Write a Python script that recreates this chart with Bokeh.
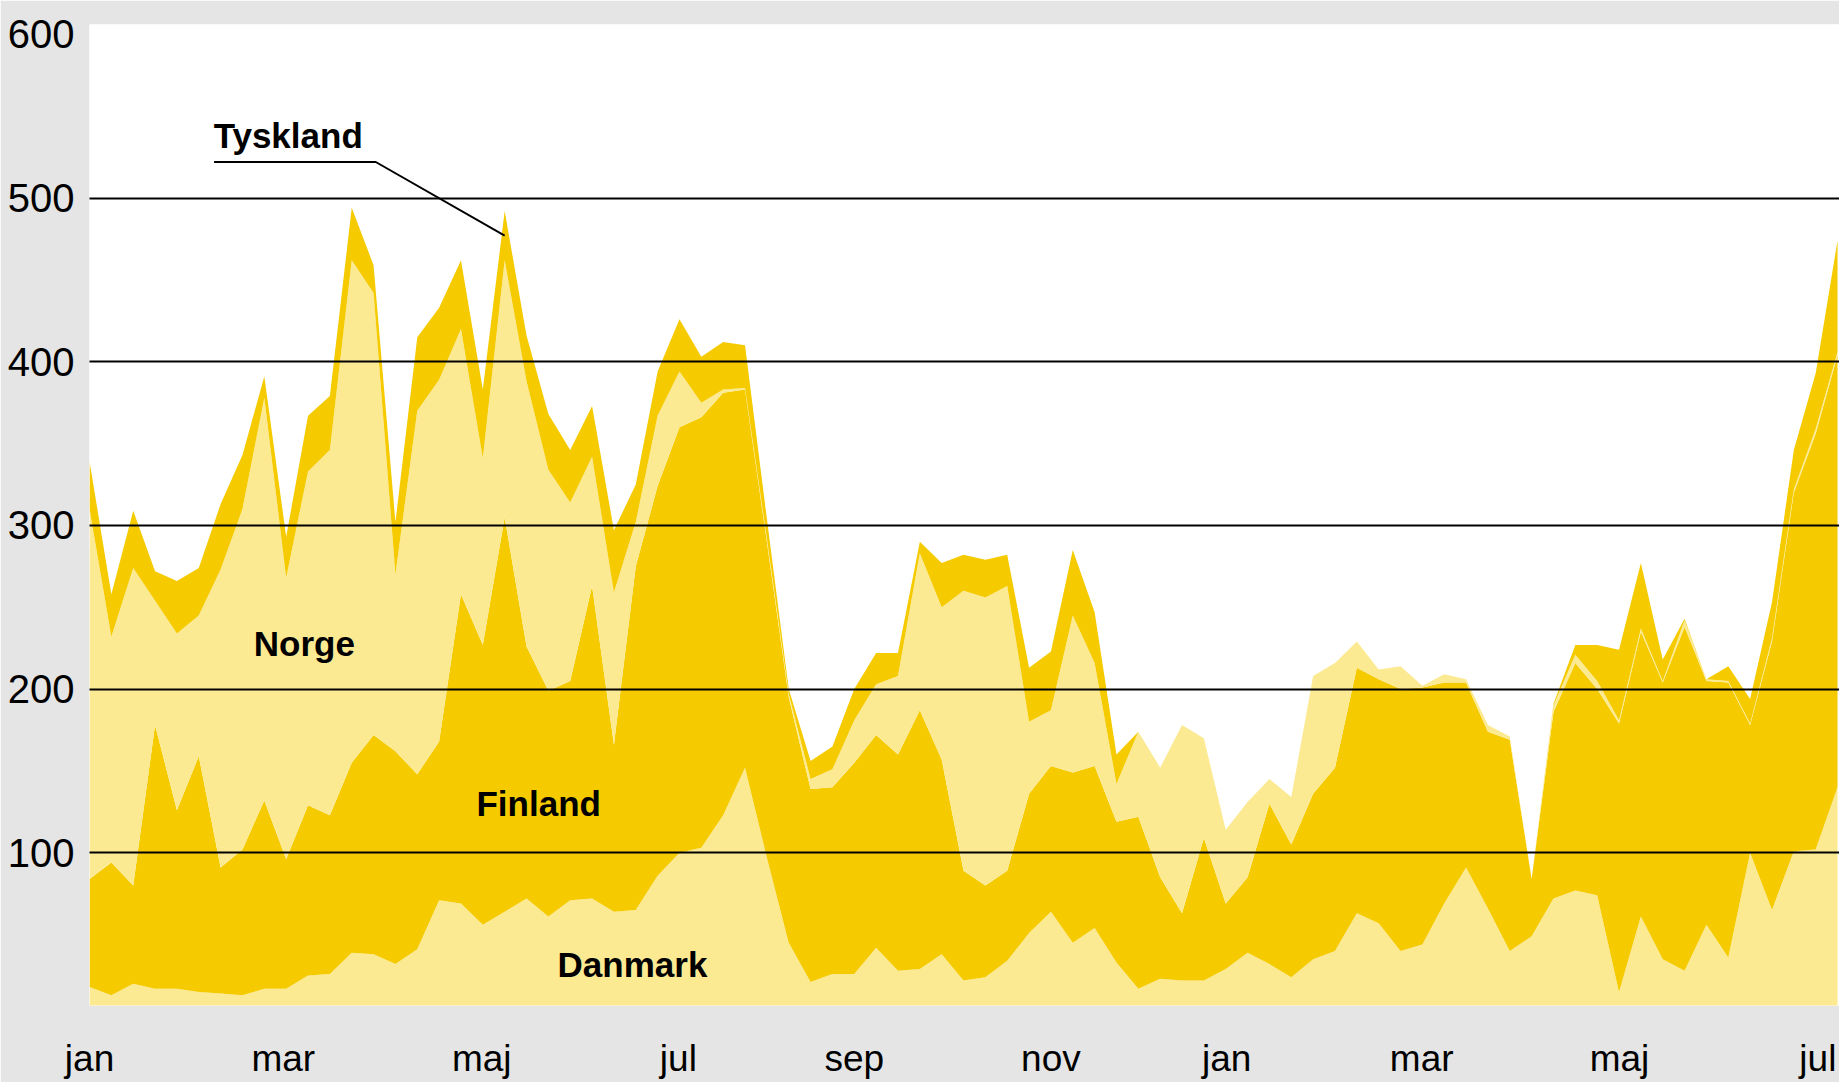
import numpy as np
from bokeh.plotting import figure
from bokeh.models import ColumnDataSource, FixedTicker, Range1d, Label, CustomJSTickFormatter
from bokeh.embed import file_html
from bokeh.resources import INLINE

# ---- data (weekly values, week 0 = first week of January, year 1) ----
weeks = list(range(81))
danmark = [18, 13, 20, 17, 17, 15, 14, 13, 17, 17,
           25, 26, 39, 38, 32, 41, 71, 69, 56, 64,
           72, 61, 71, 72, 64, 65, 86, 100, 103, 123,
           152, 97, 45, 21, 26, 26, 42, 28, 29, 38,
           22, 24, 34, 51, 64, 45, 54, 33, 17, 23,
           22, 22, 29, 39, 32, 24, 35, 40, 63, 57,
           40, 44, 69, 91, 66, 40, 49, 72, 77, 74,
           15, 61, 35, 28, 56, 36, 100, 65, 101, 102, 140]
finland = [66, 81, 60, 161, 109, 144, 77, 89, 115, 79,
           104, 97, 116, 134, 130, 107, 97, 189, 171, 241,
           154, 138, 134, 191, 102, 210, 238, 260, 263, 258,
           231, 193, 150, 118, 114, 129, 130, 132, 158, 119,
           67, 56, 55, 85, 89, 104, 99, 86, 105, 62,
           41, 87, 40, 46, 98, 81, 101, 112, 150, 149,
           160, 157, 135, 113, 108, 129, 35, 114, 139, 126,
           164, 174, 169, 210, 149, 168, 78, 164, 219, 254, 264]
norge = [226, 138, 194, 76, 108, 86, 182, 208, 246, 172,
         204, 223, 307, 270, 108, 222, 221, 162, 114, 157,
         162, 135, 109, 79, 93, 27, 43, 34, 9, 2,
         1, 2, 2, 6, 11, 26, 31, 48, 96, 93,
         171, 176, 174, 44, 34, 96, 63, 23, 52, 67,
         115, 61, 45, 46, 15, 29, 72, 64, 16, 6,
         14, 1, 5, 2, 4, 2, 0, 4, 5, 5,
         2, 2, 1, 4, 1, 1, 1, 2, 2, 3, 2]
tyskland = [29, 26, 35, 18, 32, 29, 40, 33, 13, 25,
            34, 33, 32, 17, 32, 45, 44, 42, 42, 30,
            28, 34, 32, 31, 38, 23, 27, 32, 28, 29,
            26, 12, 3, 11, 14, 19, 19, 14, 7, 27,
            22, 23, 19, 33, 36, 40, 31, 18, 0, 0,
            0, 0, 0, 0, 0, 0, 0, 0, 0, 0,
            0, 0, 0, 0, 0, 0, 0, 1, 6, 22,
            43, 40, 13, 1, 0, 9, 15, 22, 24, 34, 68]
series_names = ["Danmark", "Finland", "Norge", "Tyskland"]
month_labels = ["jan", "mar", "maj", "jul", "sep", "nov", "jan", "mar", "maj", "jul"]
month_pos = [0, 8.87, 17.95, 26.95, 35.0, 44.0, 52.04, 60.97, 70.02, 79.1]
y_ticks = [100, 200, 300, 400, 500, 600]
grid_ticks = [100, 200, 300, 400, 500]

# ---- styling ----
DARK = "#F5CB00"
LIGHT = "#FCEA93"
BG = "#E5E5E5"
FONT = "'Liberation Sans Narrow', 'Liberation Sans', Arial, sans-serif"

source = ColumnDataSource(dict(x=weeks, Danmark=danmark, Finland=finland,
                               Norge=norge, Tyskland=tyskland))

p = figure(width=1839, height=1082, output_backend="svg", toolbar_location=None,
           x_range=Range1d(-0.001, 80.09), y_range=Range1d(6.7, 606),
           min_border_left=89, min_border_right=0, min_border_top=24,
           min_border_bottom=77)
p.background_fill_color = "white"
p.border_fill_color = BG
p.outline_line_color = None

p.varea_stack(stackers=series_names, x="x", color=[LIGHT, DARK, LIGHT, DARK],
              source=source)

# axes
p.xaxis.ticker = FixedTicker(ticks=month_pos)
p.xaxis.formatter = CustomJSTickFormatter(args=dict(pos=month_pos, labels=month_labels), code="""
let best = 0, bd = 1e9;
for (let i = 0; i < pos.length; i++) { const d = Math.abs(pos[i] - tick); if (d < bd) { bd = d; best = i; } }
return labels[best];
""")
p.yaxis.ticker = FixedTicker(ticks=y_ticks)
for ax in (p.xaxis[0], p.yaxis[0]):
    ax.axis_line_color = None
    ax.major_tick_line_color = None
    ax.minor_tick_line_color = None
    ax.major_tick_out = 0
    ax.major_tick_in = 0
    ax.major_label_text_font = FONT
    ax.major_label_text_color = "black"
p.xaxis.major_label_text_font_size = "37px"
p.yaxis.major_label_text_font_size = "40px"
p.xaxis.major_label_standoff = 32
p.yaxis.major_label_standoff = 15

p.xgrid.visible = False
p.ygrid.ticker = FixedTicker(ticks=grid_ticks)
p.ygrid.grid_line_color = "black"
p.ygrid.grid_line_width = 2
p.ygrid.level = "guide"

# leader line for Tyskland (ends inside the Tyskland band at its week-19 peak)
peak = 19
cum_n = np.cumsum([danmark, finland, norge, tyskland], axis=0)
end_y = (cum_n[2][peak] + cum_n[3][peak]) / 2
p.line(x=[5.70, 13.10, peak], y=[522, 522, end_y], line_color="black", line_width=2)

for name, lx, ly in [("Tyskland", 5.68, 538), ("Norge", 7.52, 228),
                     ("Finland", 17.71, 130), ("Danmark", 21.42, 32)]:
    p.add_layout(Label(x=lx, y=ly, text=name, text_font=FONT, text_font_style="bold",
                       text_font_size="35px", text_color="black",
                       text_baseline="alphabetic", text_align="left"))

open("out.html", "w").write(file_html(p, INLINE))
